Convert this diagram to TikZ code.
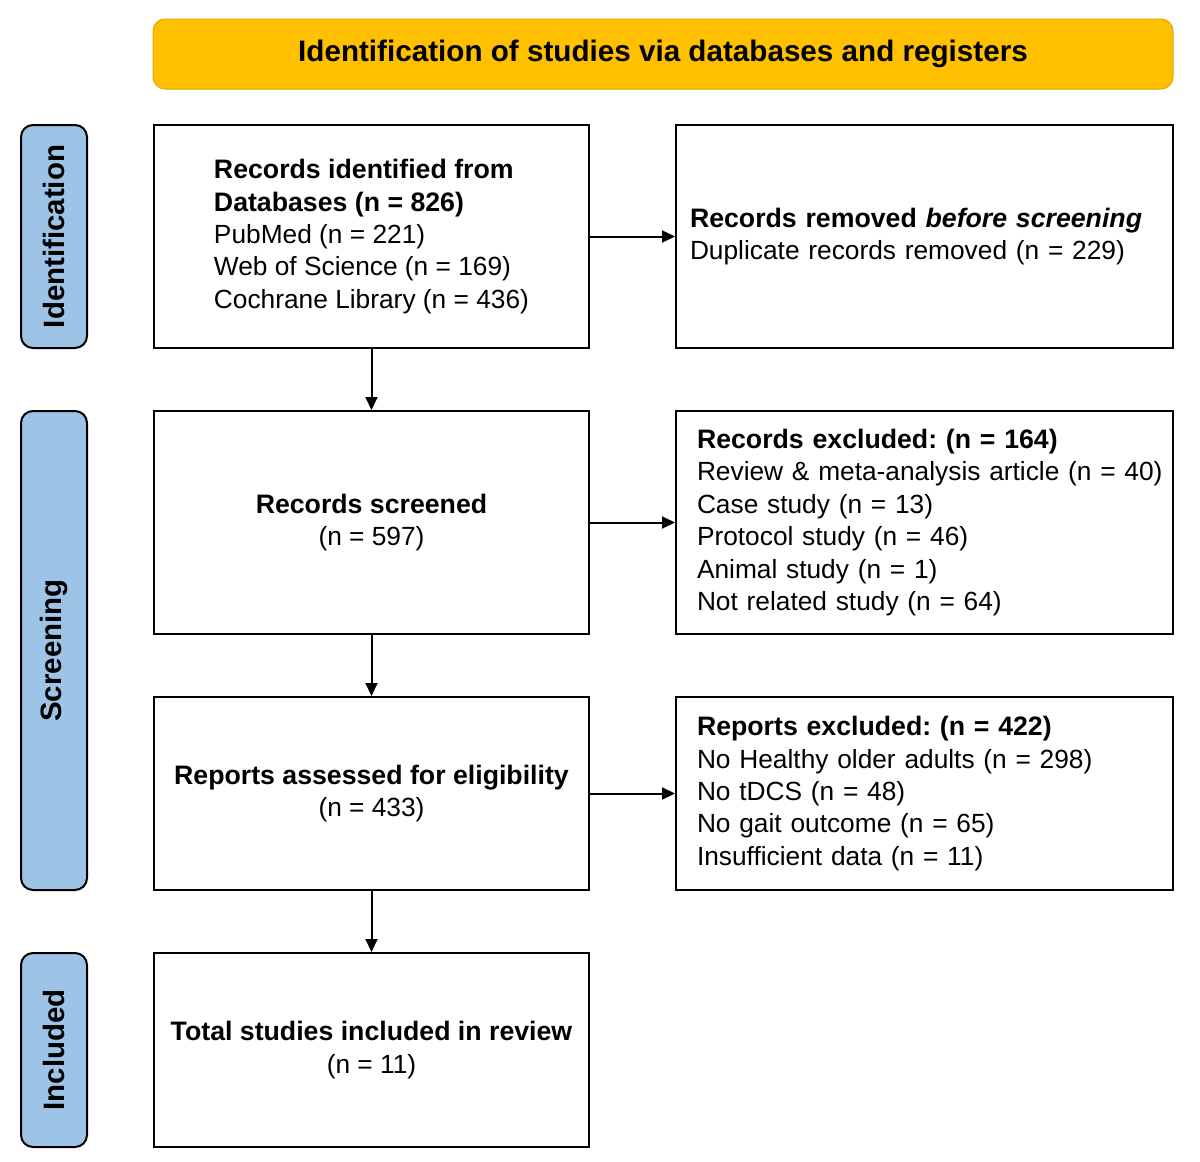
\documentclass[tikz,border=0pt]{standalone}
\usepackage{fontspec}
\setmainfont{Liberation Sans}[BoldFeatures={Scale=1.015}, BoldItalicFeatures={Scale=1.015}]
\usetikzlibrary{arrows.meta}
\definecolor{headgold}{HTML}{FFC000}
\definecolor{headedge}{HTML}{E0A800}
\definecolor{stageblue}{HTML}{9DC3E6}
\tikzset{
	x=1pt, y=-1pt,
	flowbox/.style={draw=black, line width=2pt, inner sep=0pt, align=left,
		font=\fontsize{26.3}{32.4}\selectfont\frenchspacing},
	sidebox/.style={flowbox, minimum width=497pt, text width=497pt,
		execute at begin node={\leftskip=#1\relax}},
	stagebox/.style={draw=black, fill=stageblue, line width=2pt, rounded corners=12pt,
		rotate=90, minimum height=66pt, inner sep=0pt,
		font=\fontsize{29}{34}\selectfont\bfseries},
	flowarrow/.style={line width=2pt, -{Triangle[length=13pt,width=12pt]}}
}

\begin{document}
\begin{tikzpicture}
			%%%%% START %%%%%
			
			\useasboundingbox (0, 0) rectangle (1200, 1162);
			
			\node[draw=headedge, fill=headgold, line width=1pt, rounded corners=12pt,
				minimum width=1020pt, minimum height=70pt,
				font=\fontsize{29.2}{34}\selectfont\bfseries] (head) at (663, 54)
				{Identification of studies via databases and registers};
			
			\node[stagebox, minimum width=223pt] (identlab) at (54, 236.5) {Identification};
			\node[stagebox, minimum width=479pt] (screenlab) at (54, 650.5) {Screening};
			\node[stagebox, minimum width=194pt] (inclab) at (54, 1050) {Included};
			
			\node[flowbox, minimum width=435pt, minimum height=223pt] (found) at (371.5, 236.5)
				{\textbf{Records identified from}\\
				 \textbf{Databases (n = 826)}\\
				 PubMed (n = 221)\\
				 Web of Science (n = 169)\\
				 Cochrane Library (n = 436)};
			\node[sidebox=14pt, minimum height=223pt] (removed) at (924.5, 236.5)
				{\textbf{Records removed \textit{before screening}}\\
				 Duplicate records removed (n = 229)};
			
			\node[flowbox, align=center, minimum width=435pt, minimum height=223pt] (screened) at (371.5, 522.5)
				{\textbf{Records screened}\\
				 (n = 597)};
			\node[sidebox=21pt, minimum height=223pt] (excluded) at (924.5, 522.5)
				{\textbf{Records excluded: (n = 164)}\\
				 Review \& meta-analysis article (n = 40)\\
				 Case study (n = 13)\\
				 Protocol study (n = 46)\\
				 Animal study (n = 1)\\
				 Not related study (n = 64)};
			
			\node[flowbox, align=center, minimum width=435pt, minimum height=193pt] (assessed) at (371.5, 793.5)
				{\textbf{Reports assessed for eligibility}\\
				 (n = 433)};
			\node[sidebox=21pt, minimum height=193pt] (repexcl) at (924.5, 793.5)
				{\textbf{Reports excluded: (n = 422)}\\
				 No Healthy older adults (n = 298)\\
				 No tDCS (n = 48)\\
				 No gait outcome (n = 65)\\
				 Insufficient data (n = 11)};
			
			\node[flowbox, align=center, minimum width=435pt, minimum height=194pt] (included) at (371.5, 1050)
				{\textbf{Total studies included in review}\\
				 (n = 11)};
			
			\draw[flowarrow] (found.east) -- (removed.west);
			\draw[flowarrow] (found.south) -- (screened.north);
			\draw[flowarrow] (screened.east) -- (excluded.west);
			\draw[flowarrow] (screened.south) -- (assessed.north);
			\draw[flowarrow] (assessed.east) -- (repexcl.west);
			\draw[flowarrow] (assessed.south) -- (included.north);
			
			%%%%% END %%%%%
\end{tikzpicture}
\end{document}
